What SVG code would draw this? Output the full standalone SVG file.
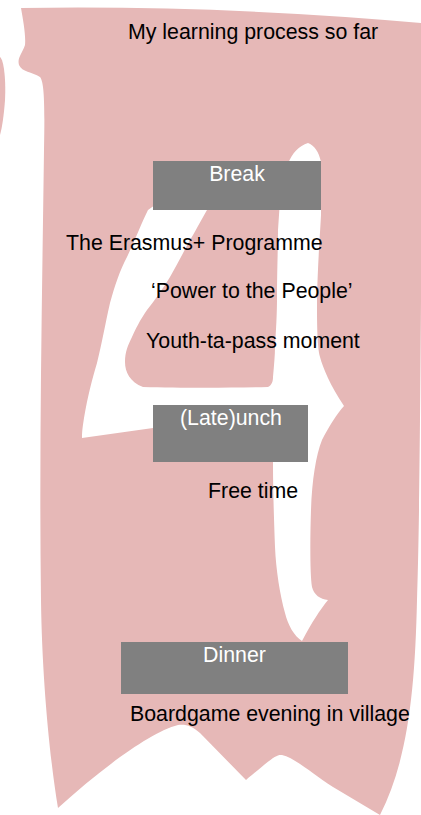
<svg xmlns="http://www.w3.org/2000/svg" width="421" height="815" viewBox="0 0 421 815">
<style>
.bg{fill:#e6b8b7}
.cut{fill:#ffffff;fill-rule:evenodd}
.box{fill:#808080}
.t{font-family:"Liberation Sans",Arial,sans-serif;font-size:21.33px;fill:#000000}
.bt{font-family:"Liberation Sans",Arial,sans-serif;font-size:21.33px;fill:#ffffff;text-anchor:middle}
</style>
<rect width="421" height="815" fill="#ffffff"/>
<g id="background">
<path class="bg" d="M 21,8 Q 220,5 421,23 L 421,300 C 420,450 419,540 417,600 C 415,690 408,760 380,815 L 333,787 C 310,772 295,758 282,755 C 276,754 270,760 246,780 L 200,733 C 192,726 186,724 178,725 C 150,732 100,770 58,808 C 50,760 42,680 41,600 C 39,450 42,300 44,150 C 45,100 44,82 40,77 C 32,72 22,72 19,65 C 17,58 22,54 25,45 C 26,35 23,20 21,8 Z"/>
<path class="bg" d="M 0,57 C 4,60 6,80 5,100 C 4,115 2,128 0,135 Z"/>
<path class="cut" d="M 308,143 C 314,145 319,152 321,162 L 321,215 C 320,235 318,260 317,297 C 317,320 317,345 320,357 C 323,368 330,385 344,406 C 338,412 328,428 322,440 C 316,455 312,480 311,510 C 310,540 310,575 312,587 C 314,595 320,599 328,600 C 320,610 312,622 302,641 C 294,636 288,625 285,613 C 280,595 276,570 275,547 C 274,520 273,490 273,465 L 273,440 L 268,428 L 153,428 L 82,438 C 82,430 83,425 84,418 C 88,395 92,380 97,363 C 102,343 105,325 110,303 C 115,285 120,270 127,257 C 135,240 142,222 148,210 L 155,205 L 288,164 C 292,153 299,146 308,143 Z M 207,210 C 200,222 195,232 190,240 C 183,253 177,265 170,277 C 162,290 155,300 147,310 C 140,320 135,330 132,337 C 128,345 125,352 125,362 C 125,372 130,382 143,387 C 180,388 230,388 268,387 C 272,385 273,381 273,377 C 274,365 275,355 275,347 C 276,330 277,315 277,297 C 277,270 278,250 278,230 L 280,200 L 210,200 Z"/>
</g>
<g id="title">
<text class="t" x="128" y="39">My learning process so far</text>
</g>
<g id="break">
<rect class="box" x="153" y="161" width="168" height="49"/>
<text class="bt" x="237" y="181">Break</text>
</g>
<g id="erasmus">
<text class="t" x="66" y="250">The Erasmus+ Programme</text>
</g>
<g id="power">
<text class="t" x="151" y="298">‘Power to the People’</text>
</g>
<g id="youthpass">
<text class="t" x="146" y="348">Youth-ta-pass moment</text>
</g>
<g id="lunch">
<rect class="box" x="153" y="405" width="155" height="57"/>
<text class="bt" x="231" y="425">(Late)unch</text>
</g>
<g id="freetime">
<text class="t" x="208" y="498">Free time</text>
</g>
<g id="dinner">
<rect class="box" x="121" y="642" width="227" height="52"/>
<text class="bt" x="234.5" y="662">Dinner</text>
</g>
<g id="boardgame">
<text class="t" x="130" y="721">Boardgame evening in village</text>
</g>
<g id="connectors"/>
</svg>
